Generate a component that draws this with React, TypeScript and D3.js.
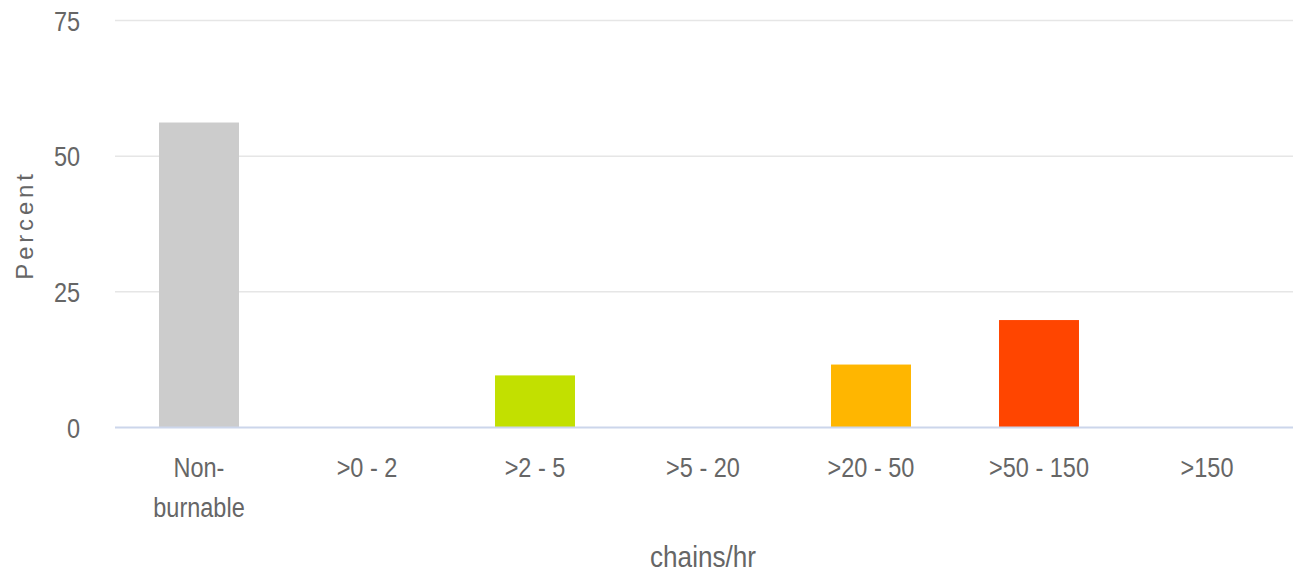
import React from "react";
import * as d3 from "d3";

const categories = ["Non-burnable", ">0 - 2", ">2 - 5", ">5 - 20", ">20 - 50", ">50 - 150", ">150"];
const labelLines = [["Non-", "burnable"], [">0 - 2"], [">2 - 5"], [">5 - 20"], [">20 - 50"], [">50 - 150"], [">150"]];
const values = [56.2, 0, 9.6, 0, 11.6, 19.8, 0];
const colors = ["#cccccc", "#c2e000", "#c2e000", "#ffd000", "#ffb600", "#ff4500", "#c00000"];
const yTicks = [0, 25, 50, 75];

const W = 1300;
const H = 576;
const FONT = "'Liberation Sans', Arial, sans-serif";
const SX = 0.87;

function CText({ x, y, size, anchor = "middle", children }: { x: number; y: number; size: number; anchor?: string; children: React.ReactNode }) {
  return (
    <text
      transform={`translate(${x},${y}) scale(${SX},1)`}
      textAnchor={anchor}
      fontFamily={FONT}
      fontSize={size}
      fill="#666"
    >
      {children}
    </text>
  );
}

export default function App() {
  const x = d3.scaleBand<string>().domain(categories).range([115, 1291]).paddingInner(0.524).paddingOuter(0.262);
  const y = d3.scaleLinear().domain([0, 75]).range([427.5, 20.5]);
  return (
    <svg width={W} height={H} style={{ position: "absolute", left: 0, top: 0, background: "#fff" }}>
      {yTicks.map((t) => (
        <g key={t}>
          {t !== 0 && (
            <line x1={115} x2={1293} y1={y(t)} y2={y(t)} stroke="#e6e6e6" strokeWidth={1.5} />
          )}
          <CText x={80} y={y(t) + 10} size={27} anchor="end">
            {t}
          </CText>
        </g>
      ))}
      {categories.map((c, i) => (
        <rect key={c} x={x(c)} width={x.bandwidth()} y={y(values[i])} height={y(0) - y(values[i])} fill={colors[i]} />
      ))}
      <line x1={115} x2={1293} y1={y(0)} y2={y(0)} stroke="#ccd6eb" strokeWidth={2} />
      {categories.map((c, i) => (
        <g key={c}>
          {labelLines[i].map((l, j) => (
            <CText key={j} x={(x(c) as number) + x.bandwidth() / 2} y={477 + j * 40} size={27}>
              {l}
            </CText>
          ))}
        </g>
      ))}
      <text
        transform={`translate(33,${225}) rotate(-90)`}
        textAnchor="middle"
        fontFamily={FONT}
        fontSize={24}
        letterSpacing={3.8}
        fill="#666"
      >
        Percent
      </text>
      <CText x={703} y={567} size={30}>
        chains/hr
      </CText>
    </svg>
  );
}
